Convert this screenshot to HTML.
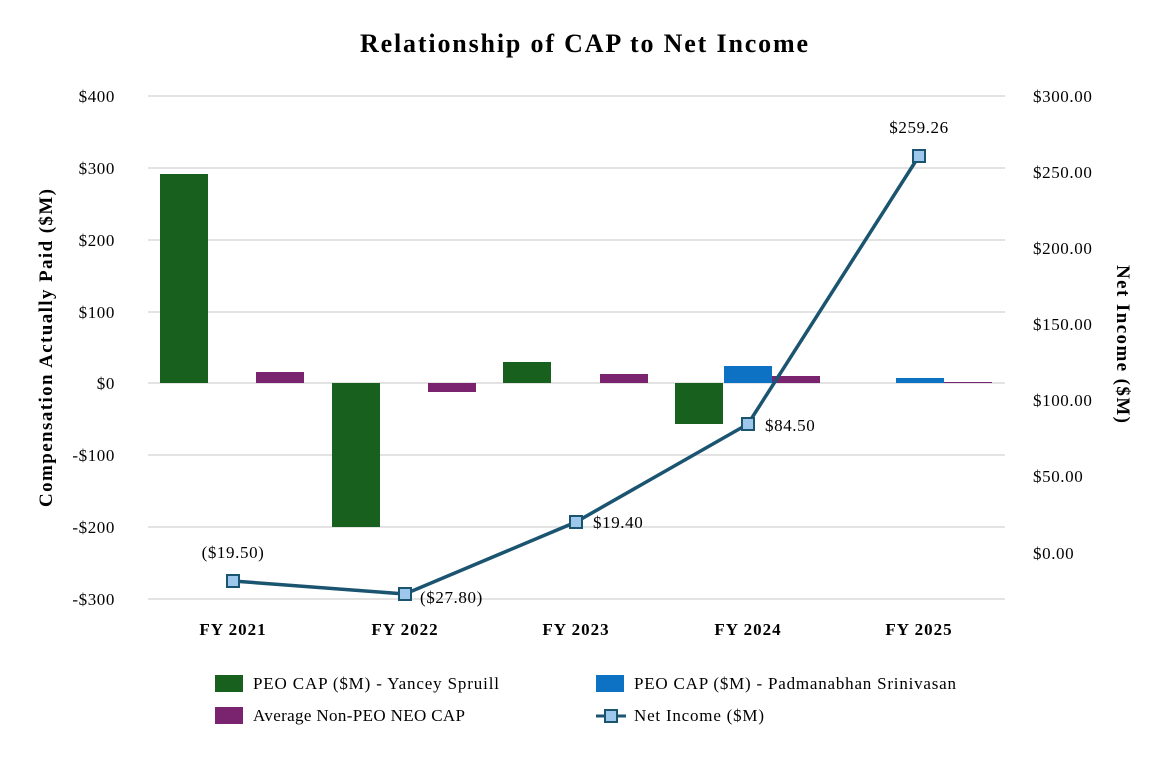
<!DOCTYPE html>
<html><head><style>body{margin:0;background:#fff}</style></head><body>
<svg width="1170" height="768" xmlns="http://www.w3.org/2000/svg" font-family="Liberation Serif, serif">
<rect width="1170" height="768" fill="#fff"/>
<text x="584" y="52" text-anchor="middle" font-size="26" font-weight="bold" textLength="448" lengthAdjust="spacing">Relationship of CAP to Net Income</text>
<g stroke="#e3e3e3" stroke-width="2">
<line x1="148" x2="1005" y1="96" y2="96"/><line x1="148" x2="1005" y1="168" y2="168"/>
<line x1="148" x2="1005" y1="240" y2="240"/><line x1="148" x2="1005" y1="312" y2="312"/>
<line x1="148" x2="1005" y1="383" y2="383"/><line x1="148" x2="1005" y1="455" y2="455"/>
<line x1="148" x2="1005" y1="527" y2="527"/><line x1="148" x2="1005" y1="599" y2="599"/>
</g>
<g font-size="17" text-anchor="end" letter-spacing="0.6">
<text x="115" y="102">$400</text><text x="115" y="174">$300</text><text x="115" y="246">$200</text>
<text x="115" y="318">$100</text><text x="115" y="389">$0</text><text x="115" y="461">-$100</text>
<text x="115" y="533">-$200</text><text x="115" y="605">-$300</text>
</g>
<g font-size="17" letter-spacing="0.6">
<text x="1033" y="102">$300.00</text><text x="1033" y="178">$250.00</text><text x="1033" y="254">$200.00</text>
<text x="1033" y="330">$150.00</text><text x="1033" y="406">$100.00</text><text x="1033" y="482">$50.00</text>
<text x="1033" y="559">$0.00</text>
</g>
<text transform="translate(52,348) rotate(-90)" text-anchor="middle" font-size="19" font-weight="bold" textLength="318" lengthAdjust="spacing">Compensation Actually Paid ($M)</text>
<text transform="translate(1117,344) rotate(90)" text-anchor="middle" font-size="19" font-weight="bold" textLength="158" lengthAdjust="spacing">Net Income ($M)</text>
<g fill="#17601e">
<rect x="160" y="174" width="48" height="209"/><rect x="332" y="383" width="48" height="144"/>
<rect x="503" y="362" width="48" height="21"/><rect x="675" y="383" width="48" height="41"/>
</g>
<g fill="#0e72c4">
<rect x="724" y="366" width="48" height="17"/><rect x="896" y="378" width="48" height="5"/>
</g>
<g fill="#7a2470">
<rect x="256" y="372" width="48" height="11"/><rect x="428" y="383" width="48" height="9"/>
<rect x="600" y="374" width="48" height="9"/><rect x="772" y="376" width="48" height="7"/>
<rect x="944" y="382" width="48" height="1"/>
</g>
<polyline points="233,581 405,594 576,522 748,424 919,156" fill="none" stroke="#1a5470" stroke-width="3.5"/>
<g fill="#9dc8ec" stroke="#1a5470" stroke-width="2">
<rect x="227" y="575" width="12" height="12"/><rect x="399" y="588" width="12" height="12"/>
<rect x="570" y="516" width="12" height="12"/><rect x="742" y="418" width="12" height="12"/>
<rect x="913" y="150" width="12" height="12"/>
</g>
<g font-size="17" letter-spacing="0.6">
<text x="233" y="558" text-anchor="middle">($19.50)</text>
<text x="420" y="603">($27.80)</text>
<text x="593" y="528">$19.40</text>
<text x="765" y="431">$84.50</text>
<text x="919" y="133" text-anchor="middle">$259.26</text>
</g>
<g font-size="17" font-weight="bold" text-anchor="middle" letter-spacing="1">
<text x="233" y="635">FY 2021</text><text x="405" y="635">FY 2022</text><text x="576" y="635">FY 2023</text>
<text x="748" y="635">FY 2024</text><text x="919" y="635">FY 2025</text>
</g>
<g font-size="17">
<rect x="215" y="675" width="28" height="17" fill="#17601e"/><text x="253" y="689" textLength="246" lengthAdjust="spacing">PEO CAP ($M) - Yancey Spruill</text>
<rect x="596" y="675" width="28" height="17" fill="#0e72c4"/><text x="634" y="689" textLength="322" lengthAdjust="spacing">PEO CAP ($M) - Padmanabhan Srinivasan</text>
<rect x="215" y="707" width="28" height="17" fill="#7a2470"/><text x="253" y="721" textLength="212" lengthAdjust="spacing">Average Non-PEO NEO CAP</text>
<line x1="596" x2="626" y1="716" y2="716" stroke="#1a5470" stroke-width="3"/>
<rect x="605" y="710" width="12" height="12" fill="#9dc8ec" stroke="#1a5470" stroke-width="2"/>
<text x="634" y="721" textLength="130" lengthAdjust="spacing">Net Income ($M)</text>
</g>
</svg>
</body></html>
